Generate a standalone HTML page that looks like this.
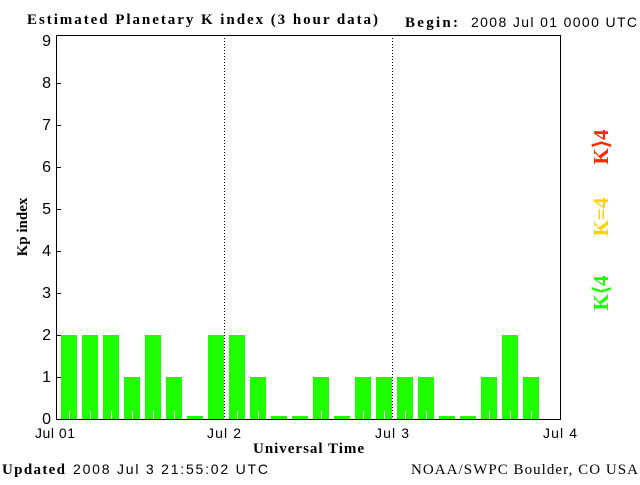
<!DOCTYPE html>
<html><head><style>
body{margin:0;width:640px;height:480px;background:#fff;overflow:hidden}
</style></head><body>
<svg width="640" height="480" xmlns="http://www.w3.org/2000/svg" font-family="Liberation Sans, sans-serif">
<rect x="0" y="0" width="640" height="480" fill="#fff"/>
<text x="27" y="24" font-family="Liberation Serif, serif" font-weight="bold" font-size="15" textLength="351" lengthAdjust="spacing">Estimated Planetary K index (3 hour data)</text>
<text x="405" y="27" font-family="Liberation Serif, serif" font-weight="bold" font-size="15" textLength="53" lengthAdjust="spacing">Begin:</text>
<text x="471" y="27" font-size="14" textLength="166" lengthAdjust="spacing">2008 Jul 01 0000 UTC</text>
<g fill="#1eff00">
<rect x="61" y="335" width="16" height="84"/><rect x="82" y="335" width="16" height="84"/><rect x="103" y="335" width="16" height="84"/>
<rect x="124" y="377" width="16" height="42"/><rect x="145" y="335" width="16" height="84"/><rect x="166" y="377" width="16" height="42"/>
<rect x="187" y="416" width="16" height="3"/><rect x="208" y="335" width="16" height="84"/><rect x="229" y="335" width="16" height="84"/>
<rect x="250" y="377" width="16" height="42"/><rect x="271" y="416" width="16" height="3"/><rect x="292" y="416" width="16" height="3"/>
<rect x="313" y="377" width="16" height="42"/><rect x="334" y="416" width="16" height="3"/><rect x="355" y="377" width="16" height="42"/>
<rect x="376" y="377" width="16" height="42"/><rect x="397" y="377" width="16" height="42"/><rect x="418" y="377" width="16" height="42"/>
<rect x="439" y="416" width="16" height="3"/><rect x="460" y="416" width="16" height="3"/><rect x="481" y="377" width="16" height="42"/>
<rect x="502" y="335" width="16" height="84"/><rect x="523" y="377" width="16" height="42"/>
</g>
<g stroke="#fff" stroke-width="1">
<path d="M69.5 411v8M90.5 411v8M111.5 411v8M132.5 411v8M153.5 411v8M174.5 411v8M237.5 411v8M258.5 411v8M321.5 411v8M363.5 411v8M384.5 411v8M405.5 411v8M426.5 411v8M489.5 411v8M510.5 411v8M531.5 411v8"/>
</g>
<g stroke="#000" stroke-width="1" fill="none">
<line x1="224.5" y1="35" x2="224.5" y2="419" stroke-dasharray="1,2"/>
<line x1="392.5" y1="35" x2="392.5" y2="419" stroke-dasharray="1,2"/>
<path d="M56.5 35.5H560.5V419.5H56.5Z"/>
<path d="M56 377.5h5M56 335.5h5M56 293.5h5M56 251.5h5M56 209.5h5M56 167.5h5M56 125.5h5M56 83.5h5"/>
</g>
<g font-size="16" text-anchor="end">
<text x="51" y="424">0</text><text x="51" y="382">1</text><text x="51" y="340">2</text><text x="51" y="298">3</text>
<text x="51" y="256">4</text><text x="51" y="214">5</text><text x="51" y="172">6</text><text x="51" y="130">7</text>
<text x="51" y="88">8</text><text x="51" y="46">9</text>
</g>
<g font-size="14">
<text x="35" y="438" textLength="40" lengthAdjust="spacing">Jul 01</text><text x="207" y="438" textLength="34" lengthAdjust="spacing">Jul 2</text><text x="375" y="438" textLength="34" lengthAdjust="spacing">Jul 3</text><text x="543" y="438" textLength="34" lengthAdjust="spacing">Jul 4</text>
</g>
<text x="253" y="453" font-family="Liberation Serif, serif" font-weight="bold" font-size="15" textLength="111" lengthAdjust="spacing">Universal Time</text>
<text transform="translate(27,227) rotate(-90)" text-anchor="middle" font-family="Liberation Serif, serif" font-weight="bold" font-size="15">Kp index</text>
<g font-family="Liberation Serif, serif" font-weight="bold" font-size="21" text-anchor="middle">
<text transform="translate(608,147) rotate(-90)" fill="#ff2a00">K⟩4</text>
<text transform="translate(608,217) rotate(-90)" fill="#ffd200">K=4</text>
<text transform="translate(608,293) rotate(-90)" fill="#1eff00">K⟨4</text>
</g>
<text x="2" y="474" font-family="Liberation Serif, serif" font-weight="bold" font-size="15" textLength="63" lengthAdjust="spacing">Updated</text>
<text x="73" y="474" font-size="14" textLength="195" lengthAdjust="spacing">2008 Jul  3 21:55:02 UTC</text>
<text x="411" y="474" font-family="Liberation Serif, serif" font-size="15" textLength="227" lengthAdjust="spacing">NOAA/SWPC Boulder, CO USA</text>
</svg>
</body></html>
